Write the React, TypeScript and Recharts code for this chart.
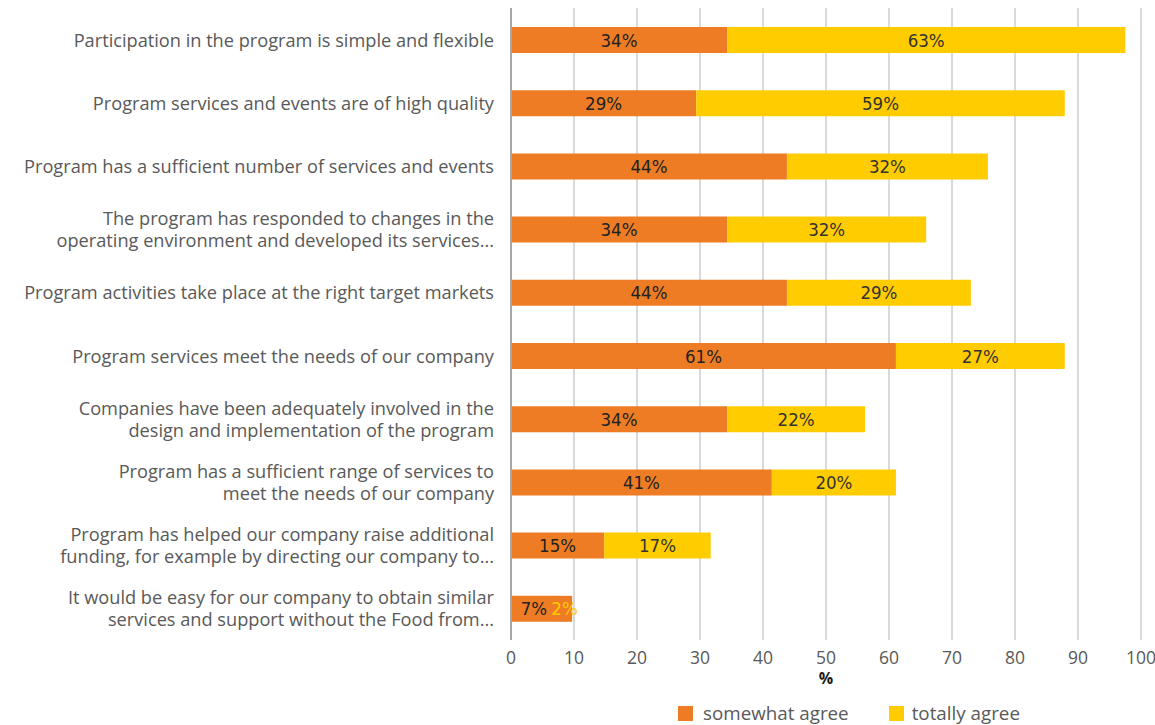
import React from "react";
import {
  BarChart,
  Bar,
  XAxis,
  YAxis,
  CartesianGrid,
  LabelList,
  Cell,
} from "recharts";

const categories = [
  "Participation in the program is simple and flexible",
  "Program services and events are of high quality",
  "Program has a sufficient number of services and events",
  "The program has responded to changes in the\noperating environment and developed its services...",
  "Program activities take place at the right target markets",
  "Program services meet the needs of our company",
  "Companies have been adequately involved in the\ndesign and implementation of the program",
  "Program has a sufficient range of services to\nmeet the needs of our company",
  "Program has helped our company raise additional\nfunding, for example by directing our company to...",
  "It would be easy for our company to obtain similar\nservices and support without the Food from...",
];

const somewhatAgree = [34.3, 29.4, 43.8, 34.3, 43.8, 61.1, 34.3, 41.4, 14.8, 7.3];
const totallyAgree = [63.2, 58.5, 31.9, 31.6, 29.2, 26.8, 21.9, 19.7, 16.9, 2.4];

const xTicks = [0, 10, 20, 30, 40, 50, 60, 70, 80, 90, 100];

const ORANGE = "#EE7C24";
const YELLOW = "#FFCC00";
const TEXT = "#595959";
const LABEL_FONT = "'DejaVu Sans Condensed', 'Open Sans', sans-serif";
const FONT = "'Open Sans', sans-serif";

const data = categories.map((name, i) => ({
  name,
  somewhat: somewhatAgree[i],
  totally: totallyAgree[i],
}));

const CategoryTick = (props: any) => {
  const { x, y, payload } = props;
  const lines = String(payload.value).split("\n");
  const lineHeight = 22;
  const startDy = -((lines.length - 1) * lineHeight) / 2;
  return (
    <text
      x={x}
      y={y}
      textAnchor="end"
      fill={TEXT}
      fontSize={18.2}
      fontFamily={FONT}
      dominantBaseline="central"
    >
      {lines.map((line, i) => (
        <tspan key={i} x={x} dy={i === 0 ? startDy : lineHeight}>
          {line}
        </tspan>
      ))}
    </text>
  );
};

const NumberTick = (props: any) => {
  const { x, y, payload } = props;
  return (
    <text
      x={x}
      y={y + 9}
      textAnchor="middle"
      fill={TEXT}
      fontSize={17.5}
      fontFamily={FONT}
      dominantBaseline="central"
    >
      {payload.value}
    </text>
  );
};

const makeLabel = (color: (i: number) => string) => (props: any) => {
  const { x, y, width, height, value, index } = props;
  return (
    <text
      x={x + width / 2}
      y={y + height / 2}
      textAnchor="middle"
      dominantBaseline="central"
      fill={color(index)}
      fontSize={18.5}
      fontFamily={LABEL_FONT}
    >
      {`${Math.round(value)}%`}
    </text>
  );
};

const lastIndex = categories.length - 1;

export default function App() {
  return (
    <div style={{ position: "absolute", left: 0, top: 0, width: 1155, height: 725, background: "#fff" }}>
      <BarChart
        width={1155}
        height={725}
        data={data}
        layout="vertical"
        margin={{ top: 8, right: 14, left: 0, bottom: 45 }}
        barSize={26}
      >
        <CartesianGrid horizontal={false} stroke="#d9d9d9" strokeWidth={2} />
        <XAxis
          type="number"
          domain={[0, 100]}
          ticks={xTicks}
          axisLine={false}
          tickLine={false}
          tick={<NumberTick />}
          height={40}
          label={{
            value: "%",
            position: "bottom",
            offset: -7,
            fill: "#1a1a1a",
            fontSize: 16,
            fontWeight: "bold",
            fontFamily: FONT,
          }}
        />
        <YAxis
          type="category"
          dataKey="name"
          width={511}
          axisLine={{ stroke: "#a6a6a6", strokeWidth: 2 }}
          tickLine={false}
          tickMargin={11}
          tick={<CategoryTick />}
          interval={0}
        />
        <Bar dataKey="somewhat" stackId="a" fill={ORANGE} isAnimationActive={false}>
          <LabelList dataKey="somewhat" content={makeLabel(() => "#222")} />
        </Bar>
        <Bar dataKey="totally" stackId="a" fill={YELLOW} isAnimationActive={false}>
          {data.map((_, i) => (
            <Cell key={i} fill={i === lastIndex ? ORANGE : YELLOW} />
          ))}
          <LabelList
            dataKey="totally"
            content={makeLabel((i) => (i === lastIndex ? YELLOW : "#333"))}
          />
        </Bar>
      </BarChart>
      <div
        style={{
          position: "absolute",
          left: 678,
          top: 700,
          display: "flex",
          alignItems: "center",
          fontFamily: FONT,
          fontSize: 18.8,
          color: TEXT,
          whiteSpace: "nowrap",
        }}
      >
        <span style={{ width: 15, height: 15, background: ORANGE, display: "inline-block" }} />
        <span style={{ marginLeft: 10, marginRight: 40 }}>somewhat agree</span>
        <span style={{ width: 15, height: 15, background: YELLOW, display: "inline-block" }} />
        <span style={{ marginLeft: 8 }}>totally agree</span>
      </div>
    </div>
  );
}
